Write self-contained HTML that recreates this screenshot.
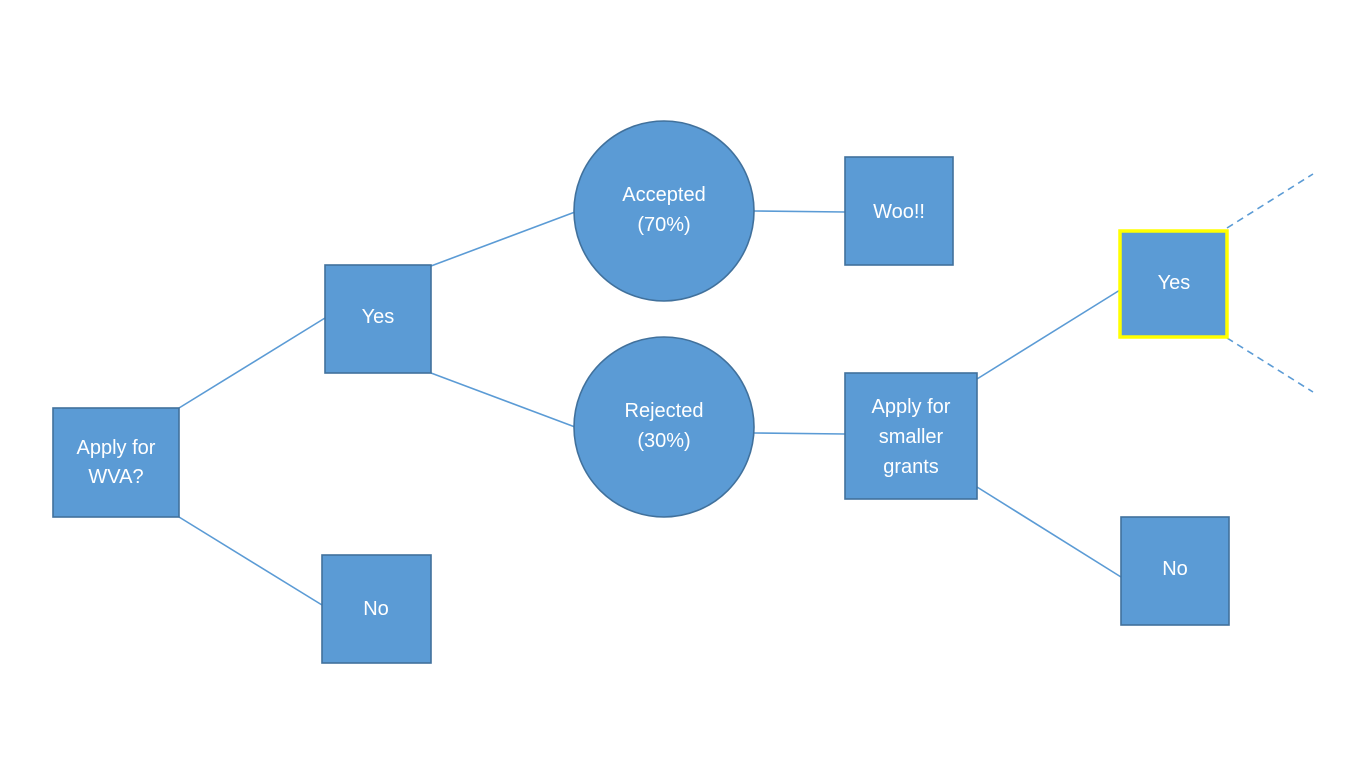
<!DOCTYPE html>
<html><head><meta charset="utf-8"><style>
html,body{margin:0;padding:0;background:#fff;}
svg{display:block}
text{font-family:"Liberation Sans",sans-serif;font-size:20px;fill:#fff;text-anchor:middle;}
</style></head><body>
<svg width="1370" height="778" viewBox="0 0 1370 778" xmlns="http://www.w3.org/2000/svg">
<g stroke="#5b9bd5" stroke-width="1.6" fill="none">
<line x1="179" y1="408" x2="325" y2="318"/>
<line x1="179" y1="517" x2="322" y2="605"/>
<line x1="431" y1="266" x2="575" y2="212"/>
<line x1="431" y1="373" x2="575" y2="427"/>
<line x1="754" y1="211" x2="845" y2="212"/>
<line x1="754" y1="433" x2="845" y2="434"/>
<line x1="977" y1="379" x2="1120" y2="290"/>
<line x1="977" y1="487" x2="1121" y2="577"/>
<line x1="1227" y1="228" x2="1313" y2="174" stroke-dasharray="7,5"/>
<line x1="1227" y1="338" x2="1313" y2="392" stroke-dasharray="7,5"/>
</g>
<g fill="#5b9bd5" stroke="#41719c" stroke-width="1.6">
<rect x="53" y="408" width="126" height="109"/>
<rect x="325" y="265" width="106" height="108"/>
<rect x="322" y="555" width="109" height="108"/>
<circle cx="664" cy="211" r="90"/>
<circle cx="664" cy="427" r="90"/>
<rect x="845" y="157" width="108" height="108"/>
<rect x="845" y="373" width="132" height="126"/>
<rect x="1121" y="517" width="108" height="108"/>
</g>
<rect x="1120" y="231" width="107" height="106" fill="#5b9bd5" stroke="#ffff00" stroke-width="3.5"/>
<text x="116" y="454">Apply for</text>
<text x="116" y="483">WVA?</text>
<text x="378" y="323">Yes</text>
<text x="376" y="615">No</text>
<text x="664" y="201">Accepted</text>
<text x="664" y="231">(70%)</text>
<text x="664" y="417">Rejected</text>
<text x="664" y="447">(30%)</text>
<text x="899" y="218">Woo!!</text>
<text x="911" y="413">Apply for</text>
<text x="911" y="443">smaller</text>
<text x="911" y="473">grants</text>
<text x="1174" y="289">Yes</text>
<text x="1175" y="575">No</text>
</svg>
</body></html>
